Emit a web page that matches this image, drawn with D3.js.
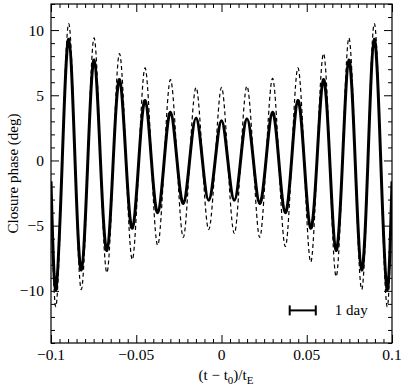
<!DOCTYPE html>
<html>
<head>
<meta charset="utf-8">
<script src="https://cdn.jsdelivr.net/npm/d3@7"></script>
<style>
  html, body { margin: 0; padding: 0; background: #fff; }
  svg { display: block; }
  text { font-family: "Liberation Serif", "Times New Roman", Times, serif; fill: #000; }
</style>
</head>
<body>
<svg id="chart" width="405" height="390"></svg>
<script>
// ---- data ----
const tPoints = [
  -0.1, -0.0971, -0.0934, -0.0896, -0.0859, -0.0822, -0.0784, -0.0747, -0.0710, -0.0672,
  -0.0635, -0.0598, -0.0560, -0.0523, -0.0485, -0.0448, -0.0411, -0.0374, -0.0336, -0.0299,
  -0.0261, -0.0224, -0.0187, -0.0149, -0.0112, -0.0075, -0.0037, 0,
  0.0037, 0.0075, 0.0112, 0.0149, 0.0187, 0.0224, 0.0261, 0.0299, 0.0336, 0.0374,
  0.0411, 0.0448, 0.0485, 0.0523, 0.0560, 0.0598, 0.0635, 0.0672, 0.0710, 0.0747,
  0.0784, 0.0822, 0.0859, 0.0896, 0.0934, 0.0971, 0.1
];
const solidPhase = [
  -1.6, -9.9, 0, 9.3, 0, -8.4, 0, 7.7, 0, -6.9,
  0, 6.2, 0, -5.2, 0, 4.6, 0, -4.0, 0, 3.7,
  0, -3.3, 0, 3.25, 0, -3.05, 0, 3.05,
  0, -3.05, 0, 3.2, 0, -3.3, 0, 3.7, 0, -4.0,
  0, 4.6, 0, -5.2, 0, 6.2, 0, -6.9, 0, 7.7,
  0, -8.4, 0, 9.3, 0, -9.9, -1.6
];
const dashedPhase = [
  -1.8, -11.2, 0, 10.5, 0, -9.9, 0, 9.4, 0, -8.6,
  0, 8.2, 0, -7.6, 0, 7.1, 0, -6.5, 0, 6.2,
  0, -5.9, 0, 5.6, 0, -5.3, 0, 5.6,
  0, -5.6, 0, 5.7, 0, -5.9, 0, 6.3, 0, -6.6,
  0, 7.1, 0, -7.8, 0, 8.2, 0, -8.9, 0, 9.4,
  0, -9.9, 0, 10.5, 0, -11.2, -1.8
];
const xTicks = [-0.1, -0.05, 0, 0.05, 0.1];
const xTickLabels = ["\u22120.1", "\u22120.05", "0", "0.05", "0.1"];
const yTicks = [-10, -5, 0, 5, 10];
const yTickLabels = ["\u221210", "\u22125", "0", "5", "10"];
const xDomain = [-0.1, 0.1];
const yDomain = [-14, 12];
const dayBarStart = 0.0400;   // in (t - t0)/tE units
const dayBarLength = 0.0153;  // one day
const dayBarLevel = -11.5;
const dayLabel = "1 day";

// ---- layout ----
const L = 51, R = 392, T = 4, B = 343;
const FONT = "'Liberation Serif', 'Times New Roman', Times, serif";
const svg = d3.select("#chart");
const x = d3.scaleLinear().domain(xDomain).range([L, R]);
const y = d3.scaleLinear().domain(yDomain).range([B, T]);

svg.append("defs").append("clipPath").attr("id", "clip")
  .append("rect").attr("x", L).attr("y", T).attr("width", R - L).attr("height", B - T);

const pts = tPoints.map((t, i) => ({t, s: solidPhase[i], d: dashedPhase[i]}));

const lineD = d3.line().x(p => x(p.t)).y(p => y(p.d)).curve(d3.curveNatural);
const lineS = d3.line().x(p => x(p.t)).y(p => y(p.s)).curve(d3.curveNatural);

const g = svg.append("g").attr("clip-path", "url(#clip)");
g.append("path").datum(pts).attr("d", lineD)
  .attr("fill", "none").attr("stroke", "#000").attr("stroke-width", 1.2)
  .attr("stroke-dasharray", "4,3");
g.append("path").datum(pts).attr("d", lineS)
  .attr("fill", "none").attr("stroke", "#000").attr("stroke-width", 3);

// ---- axes (inward ticks on all four sides) ----
const xMinor = d3.range(-0.1, 0.1001, 0.005).filter(v => Math.abs(Math.round(v / 0.05) * 0.05 - v) > 1e-6);
const yMinor = d3.range(-14, 12.001, 1).filter(v => v % 5 !== 0);

function axisGroup(axisFn, scale, ticks, size, transform) {
  const a = axisFn(scale).tickValues(ticks).tickSize(size).tickFormat("");
  const gg = svg.append("g").attr("transform", transform).call(a);
  gg.select(".domain").remove();
  gg.selectAll("line").attr("stroke", "#000").attr("stroke-width", 1);
  return gg;
}
axisGroup(d3.axisTop, x, xTicks, 8, `translate(0,${B})`);
axisGroup(d3.axisTop, x, xMinor, 4, `translate(0,${B})`);
axisGroup(d3.axisBottom, x, xTicks, 8, `translate(0,${T})`);
axisGroup(d3.axisBottom, x, xMinor, 4, `translate(0,${T})`);
axisGroup(d3.axisRight, y, yTicks, 8, `translate(${L},0)`);
axisGroup(d3.axisRight, y, yMinor, 4, `translate(${L},0)`);
axisGroup(d3.axisLeft, y, yTicks, 8, `translate(${R},0)`);
axisGroup(d3.axisLeft, y, yMinor, 4, `translate(${R},0)`);

svg.append("rect").attr("x", L).attr("y", T).attr("width", R - L).attr("height", B - T)
  .attr("fill", "none").attr("stroke", "#000").attr("stroke-width", 1.2);

// tick labels
svg.append("g").selectAll("text").data(xTicks).join("text")
  .attr("x", d => x(d)).attr("y", B + 17)
  .attr("text-anchor", "middle").attr("font-size", 15.5).attr("font-family", FONT)
  .text((d, i) => xTickLabels[i]);
svg.append("g").selectAll("text").data(yTicks).join("text")
  .attr("x", L - 7).attr("y", d => y(d) + 5.5)
  .attr("text-anchor", "end").attr("font-size", 15.5).attr("font-family", FONT)
  .text((d, i) => yTickLabels[i]);

// axis titles
svg.append("text")
  .attr("transform", `translate(18,${(T + B) / 2}) rotate(-90)`)
  .attr("text-anchor", "middle").attr("font-size", 15).attr("font-family", FONT)
  .text("Closure phase (deg)");

const xt = svg.append("text").attr("x", 226).attr("y", 380)
  .attr("text-anchor", "middle").attr("font-size", 15).attr("font-family", FONT);
xt.append("tspan").text("(t \u2212 t");
xt.append("tspan").attr("dy", 4).attr("font-size", 11).text("0");
xt.append("tspan").attr("dy", -4).text(")/t");
xt.append("tspan").attr("dy", 4).attr("font-size", 11).text("E");

// 1 day scale bar
const bx0 = x(dayBarStart), bx1 = x(dayBarStart + dayBarLength), by = y(dayBarLevel);
const bar = svg.append("g").attr("stroke", "#000").attr("stroke-width", 2);
bar.append("line").attr("x1", bx0).attr("x2", bx1).attr("y1", by).attr("y2", by);
bar.append("line").attr("x1", bx0).attr("x2", bx0).attr("y1", by - 5).attr("y2", by + 5);
bar.append("line").attr("x1", bx1).attr("x2", bx1).attr("y1", by - 5).attr("y2", by + 5);
svg.append("text").attr("x", bx1 + 19).attr("y", by + 5)
  .attr("font-size", 15).attr("font-family", FONT).text(dayLabel);
</script>
</body>
</html>
